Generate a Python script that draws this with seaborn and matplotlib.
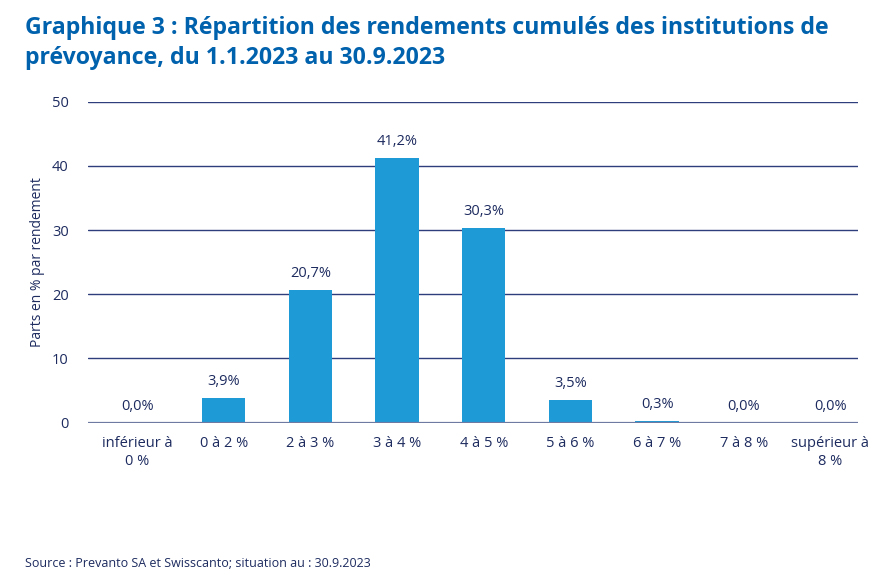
import pandas as pd
import matplotlib
matplotlib.use("Agg")
import matplotlib.pyplot as plt
import seaborn as sns

categories = ["inférieur à\n0 %", "0 à 2 %", "2 à 3 %", "3 à 4 %", "4 à 5 %",
              "5 à 6 %", "6 à 7 %", "7 à 8 %", "supérieur à\n8 %"]
shares = [0.0, 3.9, 20.7, 41.2, 30.3, 3.5, 0.3, 0.0, 0.0]
value_labels = ["0,0%", "3,9%", "20,7%", "41,2%", "30,3%", "3,5%", "0,3%", "0,0%", "0,0%"]
y_ticks = [0, 10, 20, 30, 40, 50]

title = ("Graphique 3 : Répartition des rendements cumulés des institutions de\n"
         "prévoyance, du 1.1.2023 au 30.9.2023")
source = "Source : Prevanto SA et Swisscanto; situation au : 30.9.2023"

navy = "#1d2b5f"
grid_col = "#2e3d7c"
bar_col = "#1e9bd7"
title_col = "#0061ad"

sns.set_style("white")
plt.rcParams['font.family'] = ['Open Sans', 'DejaVu Sans']

df = pd.DataFrame({"cat": categories, "val": shares})

fig = plt.figure(figsize=(8.82, 5.82), dpi=100)
ax = fig.add_axes([0.1, 0.274, 0.873, 0.551])

sns.barplot(data=df, x="cat", y="val", color=bar_col, width=0.5,
            saturation=1, ax=ax, zorder=3, linewidth=0)

ax.set_ylim(0, 50)
ax.set_xlim(-0.565, 8.32)
ax.set_yticks(y_ticks)
ax.yaxis.grid(True, color=grid_col, linewidth=1.0, zorder=0)
ax.axhline(0, color="#6f7aa3", linewidth=1.6, zorder=4)
for s in ax.spines.values():
    s.set_visible(False)
ax.tick_params(axis="both", length=0, colors=navy, labelsize=10.5)
ax.tick_params(axis="y", pad=14)
ax.tick_params(axis="x", pad=10)
ax.set_xlabel("")
ax.set_ylabel("Parts en % par rendement", color=navy, fontsize=10, labelpad=5)

for i, (v, lab) in enumerate(zip(shares, value_labels)):
    ax.text(i, v + 1.4, lab, ha="center", va="bottom", color=navy, fontsize=10.5)

fig.text(0.028, 0.972, title, ha="left", va="top", color=title_col,
         fontsize=16.7, fontweight="bold", linespacing=1.3)
fig.text(0.028, 0.032, source, ha="left", va="center", color=navy, fontsize=9)

plt.savefig("out.png", dpi=100)
